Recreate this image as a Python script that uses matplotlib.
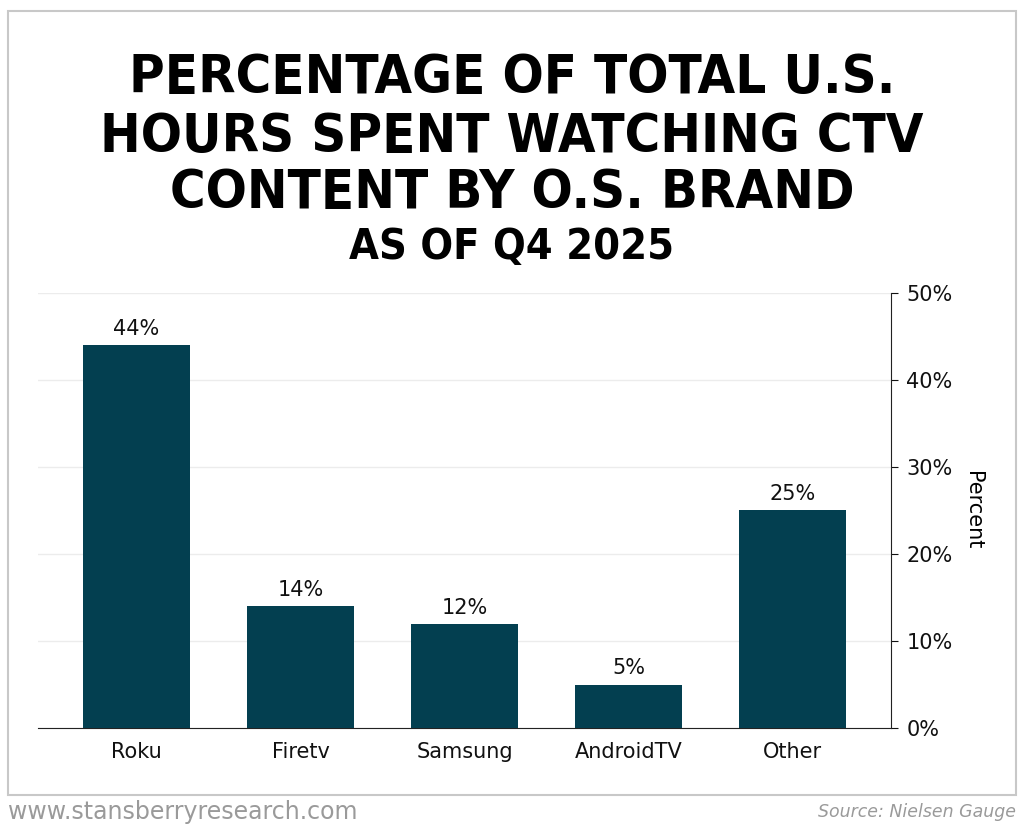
import matplotlib.pyplot as plt
from matplotlib.patches import Rectangle

# dados
brands = ['Roku', 'Firetv', 'Samsung', 'AndroidTV', 'Other']
share = [44, 14, 12, 5, 25]
yticks = [0, 10, 20, 30, 40, 50]

bar_color = '#033f50'

fig = plt.figure(figsize=(10.24, 8.30), dpi=100)

# moldura cinza
fig.patches.append(Rectangle((8 / 1024, 1 - 795 / 830), 1008 / 1024, 784 / 830,
                             transform=fig.transFigure, fill=False,
                             edgecolor='#c8c8c8', linewidth=1.5))

ax = fig.add_axes([38 / 1024, 1 - 728 / 830, (891 - 38) / 1024, (728 - 293) / 830])
x = range(len(brands))
bars = ax.bar(x, share, width=0.65, color=bar_color, zorder=3)
for xi, v in zip(x, share):
    ax.text(xi, v + 0.7, f'{v}%', ha='center', va='bottom', fontsize=15, color='#111111')

ax.set_xlim(-0.6, len(brands) - 0.4)
ax.set_ylim(0, 50)
ax.set_xticks(list(x))
ax.set_xticklabels(brands, fontsize=15)
ax.set_yticks(yticks)
ax.set_yticklabels([f'{t}%' for t in yticks], fontsize=15)
ax.yaxis.tick_right()
ax.yaxis.set_label_position('right')
ax.set_ylabel('Percent', fontsize=15, rotation=270, labelpad=22)
ax.tick_params(axis='y', length=5, pad=6, colors='#111111')
ax.tick_params(axis='x', length=0, pad=10, colors='#111111')
ax.grid(axis='y', color='#ececec', linewidth=1, zorder=0)
ax.spines['top'].set_visible(False)
ax.spines['left'].set_visible(False)
ax.spines['right'].set_color('#222222')
ax.spines['bottom'].set_color('#222222')

# título
tkw = dict(ha='center', va='center', fontsize=39, fontweight='heavy',
           family='DejaVu Sans', fontstretch='condensed')
fig.text(0.5, 1 - 78 / 830, 'PERCENTAGE OF TOTAL U.S.', **tkw)
fig.text(0.5, 1 - 137 / 830, 'HOURS SPENT WATCHING CTV', **tkw)
fig.text(0.5, 1 - 193 / 830, 'CONTENT BY O.S. BRAND', **tkw)
fig.text(0.5, 1 - 247 / 830, 'AS OF Q4 2025', ha='center', va='center',
         fontsize=31, fontweight='heavy', family='DejaVu Sans', fontstretch='condensed')

# rodapé
fig.text(8 / 1024, 1 - 812 / 830, 'www.stansberryresearch.com', ha='left', va='center',
         fontsize=17, color='#9a9a9a')
fig.text(1016 / 1024, 1 - 812 / 830, 'Source: Nielsen Gauge', ha='right', va='center',
         fontsize=12.5, color='#9a9a9a', style='italic')

fig.savefig('out.png', dpi=100)
